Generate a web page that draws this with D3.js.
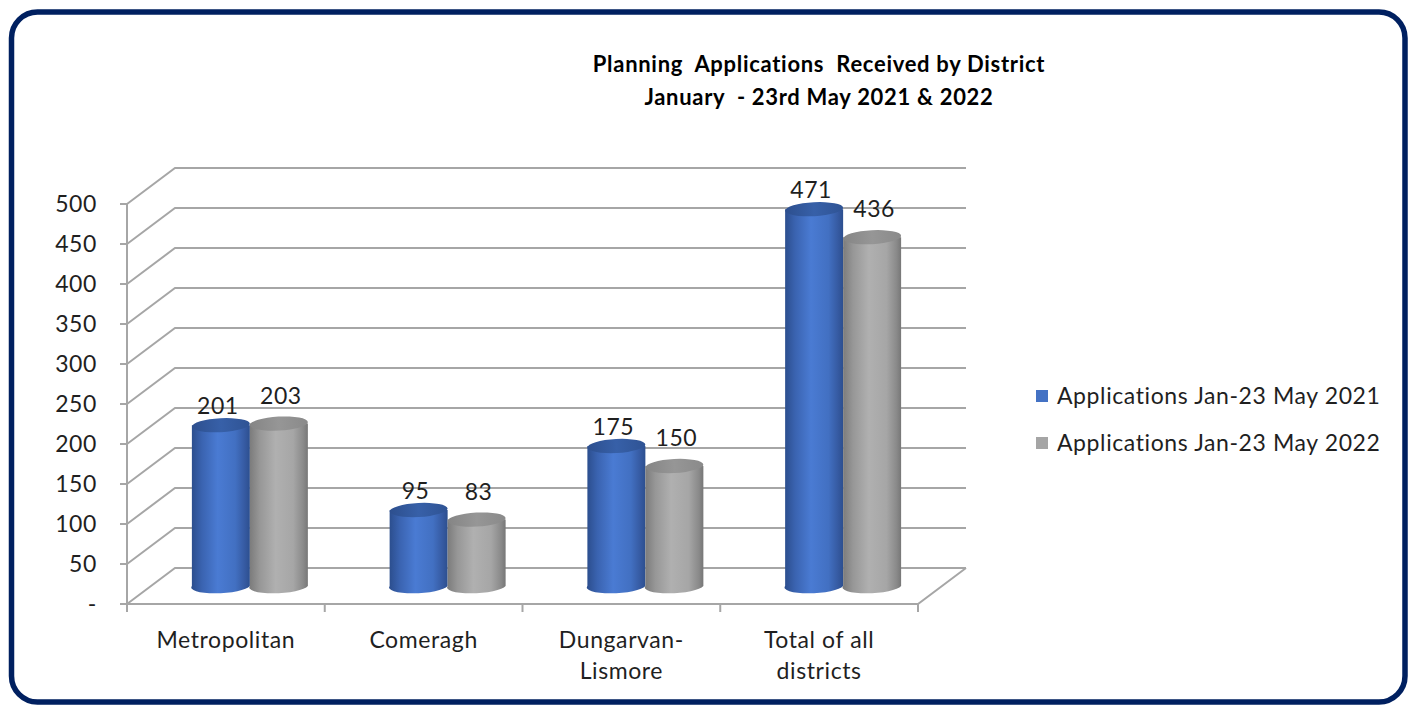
<!DOCTYPE html>
<html>
<head>
<meta charset="utf-8">
<script src="https://cdn.jsdelivr.net/npm/d3@7"></script>
<style>
  html, body { margin: 0; padding: 0; background: #ffffff; }
  svg { display: block; }
  text { font-family: Lato, "Open Sans", "Liberation Sans", sans-serif; }
</style>
</head>
<body>
<svg id="chart" width="1410" height="705"></svg>
<script>
// ---- data ----
const categories = [["Metropolitan"], ["Comeragh"], ["Dungarvan-", "Lismore"], ["Total of all", "districts"]];
const seriesNames = ["Applications Jan-23 May 2021", "Applications Jan-23 May 2022"];
const values2021 = [201, 95, 175, 471];
const values2022 = [203, 83, 150, 436];
const yTicks = [0, 50, 100, 150, 200, 250, 300, 350, 400, 450, 500];
const yTickLabels = ["-", "50", "100", "150", "200", "250", "300", "350", "400", "450", "500"];
const titleLines = ["Planning  Applications  Received by District", "January  - 23rd May 2021 & 2022"];

// ---- layout ----
const svg = d3.select("#chart");
const plot = { left: 127, right: 918, bottom: 604, top: 204 };
const depth = { dx: 48, dy: -36 };
const half = { dx: depth.dx / 2, dy: depth.dy / 2 };

const catKeys = categories.map(c => c.join(" "));
const x0 = d3.scaleBand().domain(catKeys).range([plot.left, plot.right]).paddingInner(0).paddingOuter(0);
const x1 = d3.scaleBand().domain(seriesNames).range([0, x0.bandwidth()]).paddingInner(0).paddingOuter(0.705);
const y = d3.scaleLinear().domain([0, 500]).range([plot.bottom, plot.top]);

const gridColor = "#a6a6a6";
const textColor = "#1f1f1f";
const fs = 23, ls = 0.6;

// ---- border ----
svg.append("rect")
  .attr("x", 11.5).attr("y", 12).attr("width", 1393.5).attr("height", 690)
  .attr("rx", 26).attr("ry", 26)
  .attr("fill", "#ffffff").attr("stroke", "#002060").attr("stroke-width", 5.5);

// ---- defs: gradients ----
const defs = svg.append("defs");
function hGrad(id, stops) {
  const g = defs.append("linearGradient").attr("id", id).attr("x1", "0%").attr("x2", "100%").attr("y1", "0%").attr("y2", "0%");
  stops.forEach(s => g.append("stop").attr("offset", s[0]).attr("stop-color", s[1]));
}
hGrad("blueBody", [["0%", "#2b4d8c"], ["18%", "#3a63b0"], ["45%", "#4a7bd3"], ["75%", "#4270c2"], ["92%", "#3559a0"], ["100%", "#2c4f8f"]]);
hGrad("grayBody", [["0%", "#7a7a7a"], ["18%", "#979797"], ["45%", "#b0b0b0"], ["75%", "#a6a6a6"], ["92%", "#8a8a8a"], ["100%", "#777777"]]);
hGrad("blueTop", [["0%", "#2d4f8e"], ["50%", "#3760a8"], ["100%", "#2f5394"]]);
hGrad("grayTop", [["0%", "#858585"], ["50%", "#969696"], ["100%", "#8a8a8a"]]);

// ---- walls / gridlines ----
const grid = svg.append("g").attr("fill", "none").attr("stroke", gridColor).attr("stroke-width", 2);
yTicks.forEach(t => {
  const yy = y(t);
  grid.append("path").attr("d", d3.line()([
    [plot.left, yy], [plot.left + depth.dx, yy + depth.dy], [plot.right + depth.dx, yy + depth.dy]
  ]));
});
grid.append("path").attr("d", d3.line()([
  [plot.left, plot.bottom], [plot.right, plot.bottom], [plot.right + depth.dx, plot.bottom + depth.dy]
]));
grid.append("line").attr("x1", plot.left).attr("x2", plot.left).attr("y1", y(500)).attr("y2", plot.bottom);
yTicks.forEach(t => {
  grid.append("line").attr("x1", plot.left - 7).attr("x2", plot.left).attr("y1", y(t)).attr("y2", y(t));
});
const catEdges = catKeys.map(k => x0(k)).concat([plot.right]);
catEdges.forEach(xx => {
  grid.append("line").attr("x1", xx).attr("x2", xx).attr("y1", plot.bottom).attr("y2", plot.bottom + 8);
});

// ---- y labels ----
svg.append("g").selectAll("text").data(yTicks).join("text")
  .attr("x", 97).attr("y", d => y(d)).attr("dy", "0.36em")
  .attr("text-anchor", "end").attr("font-size", fs).attr("letter-spacing", ls).attr("fill", textColor)
  .text((d, i) => yTickLabels[i]);

// ---- category labels ----
const catG = svg.append("g");
categories.forEach((lines, i) => {
  const cx = x0(catKeys[i]) + x0.bandwidth() / 2;
  const t = catG.append("text").attr("x", cx).attr("y", 640)
    .attr("text-anchor", "middle").attr("font-size", fs).attr("letter-spacing", ls).attr("fill", textColor);
  lines.forEach((ln, j) => {
    t.append("tspan").attr("x", cx).attr("dy", j === 0 ? "0.36em" : 31).text(ln);
  });
});

// ---- cylinders ----
const rx = x1.bandwidth() / 2, ry = 7, tilt = -3;
const barsG = svg.append("g");
const labelsG = svg.append("g");
const series = [
  { name: seriesNames[0], vals: values2021, body: "url(#blueBody)", top: "url(#blueTop)", labelDx: -3, labelDy: -19 },
  { name: seriesNames[1], vals: values2022, body: "url(#grayBody)", top: "url(#grayTop)", labelDx: 2, labelDy: -28 }
];
categories.forEach((c, i) => {
  series.forEach(s => {
    const v = s.vals[i];
    const cx = x0(catKeys[i]) + x1(s.name) + rx + half.dx;
    const yb = y(0) + half.dy;
    const yt = y(v) + half.dy;
    const g = barsG.append("g");
    g.append("path")
      .attr("d", `M${cx - rx},${yt} L${cx - rx},${yb} A${rx},${ry} ${tilt} 0 0 ${cx + rx},${yb} L${cx + rx},${yt} Z`)
      .attr("fill", s.body);
    g.append("ellipse").attr("cx", cx).attr("cy", yt).attr("rx", rx).attr("ry", ry)
      .attr("transform", `rotate(${tilt},${cx},${yt})`)
      .attr("fill", s.top);
    labelsG.append("text").attr("x", cx + s.labelDx).attr("y", yt + s.labelDy).attr("dy", "0.36em")
      .attr("text-anchor", "middle").attr("font-size", fs).attr("letter-spacing", ls).attr("fill", textColor).text(v);
  });
});

// ---- title ----
const titleG = svg.append("g");
titleLines.forEach((ln, i) => {
  titleG.append("text").attr("x", 819).attr("y", 64 + i * 33).attr("dy", "0.36em")
    .attr("text-anchor", "middle").attr("font-size", 22).attr("font-weight", "bold").attr("letter-spacing", 0.7)
    .attr("fill", "#000000").attr("xml:space", "preserve").style("white-space", "pre").text(ln);
});

// ---- legend ----
const legColors = ["#4472C4", "#A5A5A5"];
const legG = svg.append("g");
seriesNames.forEach((n, i) => {
  const yy = 396 + i * 47;
  legG.append("rect").attr("x", 1036).attr("y", yy - 6).attr("width", 12).attr("height", 12).attr("fill", legColors[i]);
  legG.append("text").attr("x", 1057).attr("y", yy).attr("dy", "0.36em")
    .attr("font-size", fs).attr("letter-spacing", ls).attr("fill", textColor).text(n);
});
</script>
</body>
</html>
